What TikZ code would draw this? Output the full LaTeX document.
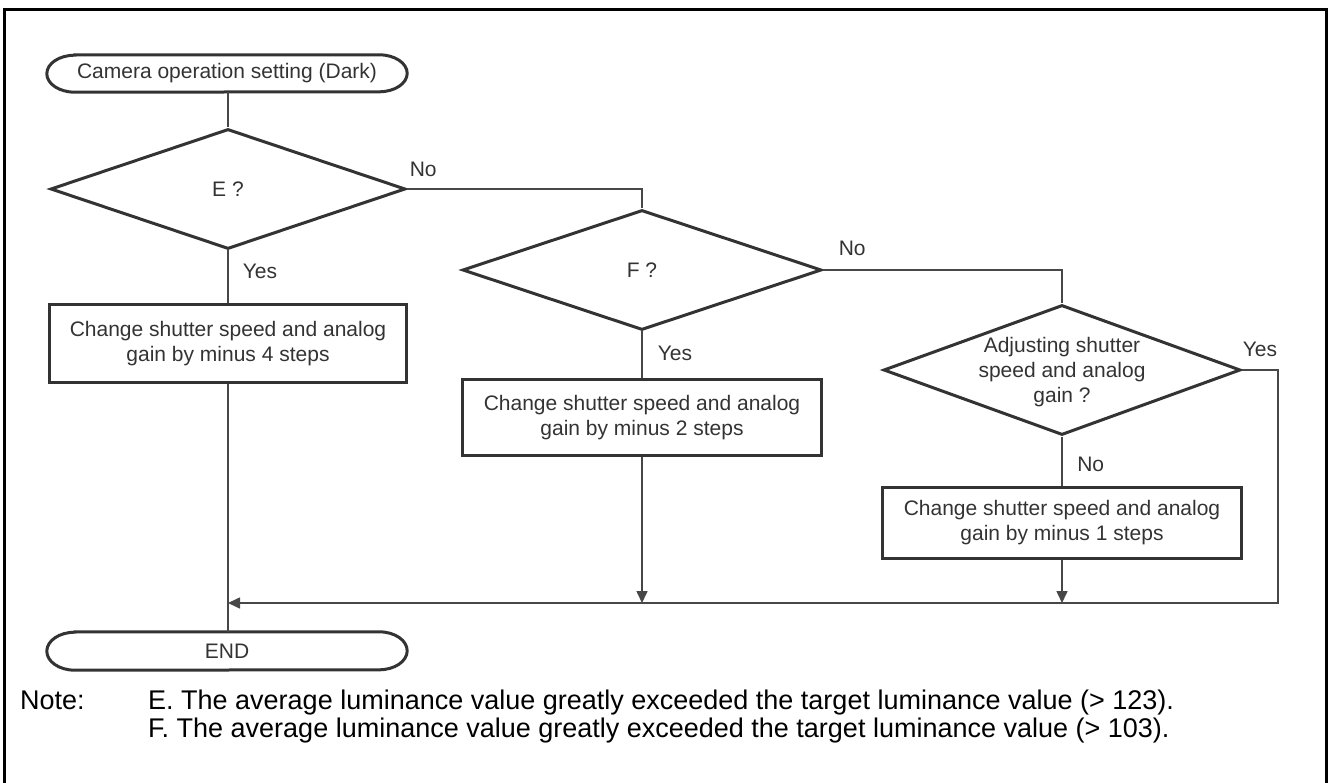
\documentclass[tikz,border=0pt]{standalone}
\usepackage{fontspec}
\setmainfont{Liberation Sans}
\usetikzlibrary{shapes.geometric,arrows.meta,calc}
\begin{document}
\begin{tikzpicture}[x=1pt,y=1pt,
  font=\fontsize{21}{25}\selectfont,
  shapeline/.style={draw=black!80, line width=3pt},
  decision/.style={diamond, shapeline, minimum width=357pt, minimum height=120pt, inner sep=0pt, align=center, text=black!80},
  procbox/.style={rectangle, shapeline, minimum width=358pt, inner sep=0pt, align=center, text=black!80},
  term/.style={rectangle, minimum width=360pt, minimum height=37pt, inner sep=0pt, text=black!80},
  conn/.style={draw=black!72, line width=1.6pt},
  arr/.style={conn, -{Triangle[length=12pt,width=11pt]}},
  lbl/.style={text=black!80, inner sep=0pt},
  notefont/.style={font=\fontsize{27}{28}\selectfont, text=black, inner sep=0pt, anchor=base west},
]
\useasboundingbox (0,0) rectangle (1328,-783);
\begin{scope}
\clip (0,0) rectangle (1328,-783);
\draw[line width=3pt] (4,-800) -- (4,-10) -- (1326,-10) -- (1326,-800);
\end{scope}

% start terminator
\node[term] (start) at (227,-73.5) {Camera operation setting (Dark)};
\draw[shapeline] ($(start.north west)+(28,0)$) -- ($(start.north east)+(-28,0)$)
  arc[start angle=90,end angle=-90,x radius=28,y radius=18.5]
  -- ($(start.south west)+(28,0)$)
  arc[start angle=270,end angle=90,x radius=28,y radius=18.5] -- cycle;

% decisions
\node[decision, minimum width=355pt] (E) at (228,-189) {E ?};
\node[decision, minimum width=359pt] (F) at (642,-270) {F ?};
\node[decision, minimum width=357pt, minimum height=130pt] (G) at (1062,-370) {};
\node[align=center, text=black!80, inner sep=0pt] (Gtext) at (1062,-372) {Adjusting shutter\\speed and analog\\gain ?};

% process boxes
\node[procbox, minimum width=357pt, minimum height=78pt] (B1) at (228,-344) {Change shutter speed and analog\\gain by minus 4 steps};
\node[procbox, minimum width=359pt, minimum height=75pt] (B2) at (642,-417.5) {Change shutter speed and analog\\gain by minus 2 steps};
\node[procbox, minimum width=359pt, minimum height=71pt] (B3) at (1062,-522.5) {Change shutter speed and analog\\gain by minus 1 steps};

% end terminator
\node[term, minimum height=38pt] (END) at (227,-651) {END};
\draw[shapeline] ($(END.north west)+(28,0)$) -- ($(END.north east)+(-28,0)$)
  arc[start angle=90,end angle=-90,x radius=28,y radius=19]
  -- ($(END.south west)+(28,0)$)
  arc[start angle=270,end angle=90,x radius=28,y radius=19] -- cycle;

% merge coordinates
\coordinate (merge) at (228,-603);
\coordinate (rc) at (1278,-603);

% connectors
\draw[conn] (start.south -| E.north) -- (E.north);
\draw[conn] (E.east) -| node[lbl, pos=0, anchor=base west, xshift=2pt, yshift=12pt] {No} (F.north);
\draw[conn] (E.south) -- node[lbl, pos=0, anchor=base west, xshift=14pt, yshift=-28.5pt] {Yes} (B1.north);
\draw[conn] (B1.south) -- (END.north -| B1.south);
\draw[conn] (F.east) -| node[lbl, pos=0, anchor=base west, xshift=15pt, yshift=14.5pt] {No} (G.north);
\draw[conn] (F.south) -- node[lbl, pos=0, anchor=base west, xshift=15pt, yshift=-29.5pt] {Yes} (B2.north);
\draw[conn] (G.south) -- node[lbl, pos=0, anchor=base west, xshift=14.5pt, yshift=-34.5pt] {No} (B3.north);
\draw[arr] (B2.south) -- (B2.south |- merge);
\draw[arr] (B3.south) -- (B3.south |- merge);
\draw[arr] (G.east) node[lbl, anchor=base west, xshift=0pt, yshift=13.5pt] {Yes} -| (rc) -- (merge);

% note
\node[notefont] (note) at (20,-709) {Note:};
\node[notefont] (noteE) at (148,-709) {E. The average luminance value greatly exceeded the target luminance value (> 123).};
\node[notefont] (noteF) at (148,-737) {F. The average luminance value greatly exceeded the target luminance value (> 103).};
\end{tikzpicture}
\end{document}
